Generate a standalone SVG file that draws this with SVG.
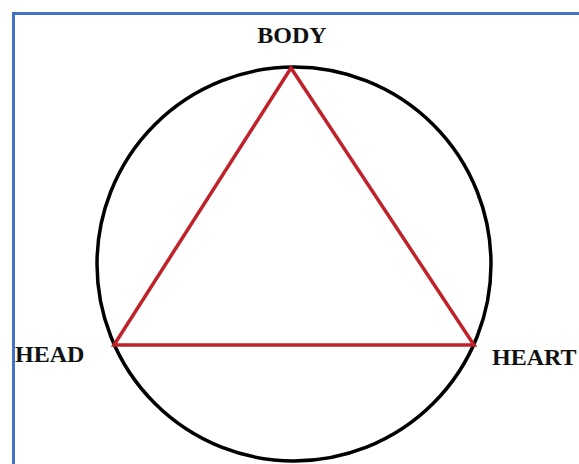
<svg xmlns="http://www.w3.org/2000/svg" width="579" height="464" viewBox="0 0 579 464">
  <style>
    .lbl { font-family: "Liberation Serif", "Times New Roman", serif; font-weight: bold; font-size: 24px; fill: #111; }
  </style>
  <rect x="0" y="0" width="579" height="464" fill="#ffffff"/>
  <rect x="13.5" y="13.5" width="620" height="520" fill="none" stroke="#4472C4" stroke-width="3"/>
  <g id="circle">
    <circle cx="294" cy="264" r="197" fill="none" stroke="#000" stroke-width="3.5"/>
  </g>
  <g id="connectors">
    <polygon points="291,68 114,345 474,345" fill="none" stroke="#C0222A" stroke-width="3.5" stroke-linejoin="miter"/>
  </g>
  <g id="body"><text class="lbl" x="292" y="43" text-anchor="middle">BODY</text></g>
  <g id="head"><text class="lbl" x="15" y="362">HEAD</text></g>
  <g id="heart"><text class="lbl" x="492" y="365">HEART</text></g>
</svg>
